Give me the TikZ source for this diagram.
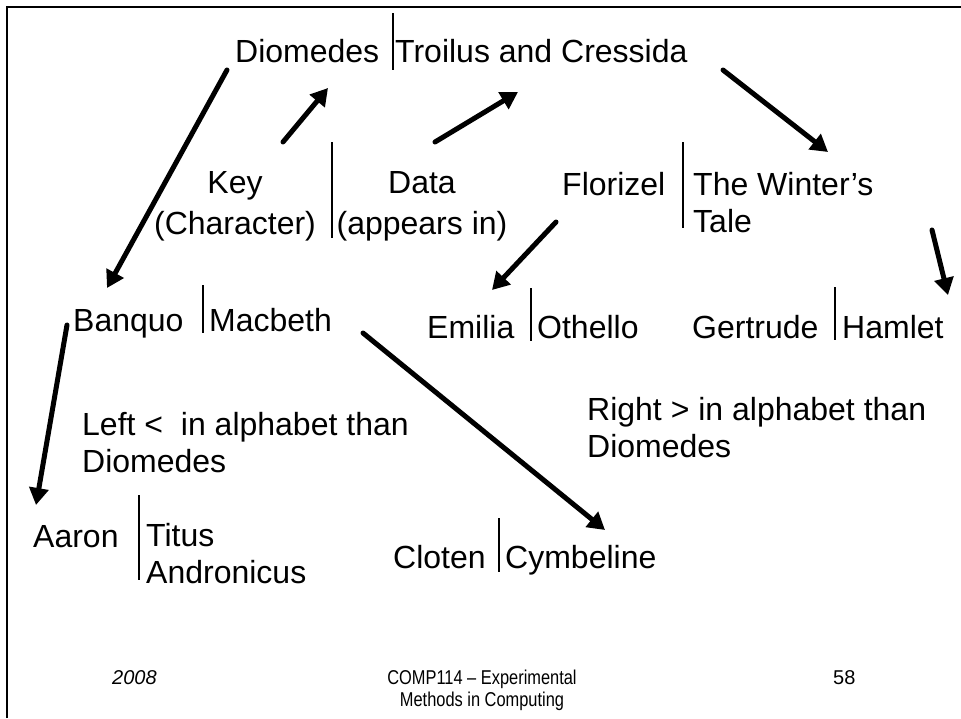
\documentclass[tikz,border=0pt]{standalone}
\usepackage{fontspec}
\setmainfont{Liberation Sans}
\usetikzlibrary{arrows.meta,positioning}

\begin{document}
\begin{tikzpicture}[
  x=1pt, y=-1pt,
  word/.style={anchor=base west, inner sep=0pt, align=left,
               font=\fontsize{32}{37}\selectfont},
  label/.style={anchor=base, inner sep=0pt, align=center,
                font=\fontsize{32}{37}\selectfont},
  foot/.style={anchor=base west, inner sep=0pt, font=\fontsize{20}{22}\selectfont},
  bar/.style={line width=1.3pt},
  arr/.style={-{Triangle[length=17pt,width=19pt]}, line width=5pt, line cap=round},
]
  \useasboundingbox (0,0) rectangle (961,718);
  \draw[line width=2pt] (7,718) -- (7,7) -- (961,7);

  % root
  \node[word] (diomedes) at (235,62) {Diomedes};
  \node[word] (troilus)  at (395,62) {Troilus and Cressida};
  \draw[bar] (393,13) -- (393,70);

  % key / data legend (base = last line)
  \node[label] (key)  at (235,234) {Key\\[4pt](Character)};
  \node[label] (data) at (422,234) {Data\\[4pt](appears in)};
  \draw[bar] (332,142) -- (332,238);

  \node[word] (florizel) at (562,195) {Florizel};
  \node[word] (winter)   at (693,232) {The Winter’s\\Tale};
  \draw[bar] (683,142) -- (683,228);

  \node[word] (banquo)  at (73,331)  {Banquo};
  \node[word] (macbeth) at (209,331) {Macbeth};
  \draw[bar] (203,285) -- (203,333);

  \node[word] (emilia)  at (427,338) {Emilia};
  \node[word] (othello) at (537,338) {Othello};
  \draw[bar] (531,288) -- (531,341);

  \node[word] (gertrude) at (692,338) {Gertrude};
  \node[word] (hamlet)   at (842,338) {Hamlet};
  \draw[bar] (835,287) -- (835,340);

  \node[word] (leftnote)  at (82,472)  {Left <\ \ in alphabet than\\Diomedes};
  \node[word] (rightnote) at (587,457) {Right > in alphabet than\\Diomedes};

  \node[word] (aaron) at (33,547)  {Aaron};
  \node[word] (titus) at (146,583) {Titus\\Andronicus};
  \draw[bar] (139,495) -- (139,580);

  \node[word] (cloten)    at (393,568) {Cloten};
  \node[word] (cymbeline) at (505,568) {Cymbeline};
  \draw[bar] (499,518) -- (499,572);

  % links
  \draw[arr] ([shift={(-8,8)}]diomedes.base west) -- ([shift={(34,-43)}]banquo.base west);
  \draw[arr] ([shift={(48,-92)}]key.base) -- ([shift={(93,26)}]diomedes.base west);
  \draw[arr] ([shift={(13,-92)}]data.base) -- ([shift={(123,30)}]troilus.base west);
  \draw[arr] ([shift={(328,8)}]troilus.base west) -- ([shift={(135,-80)}]winter.base west);
  \draw[arr] ([shift={(-6,27)}]florizel.base west) -- ([shift={(65,-48)}]emilia.base west);
  \draw[arr] ([shift={(239,-2)}]winter.base west) -- ([shift={(106,-43)}]hamlet.base west);
  \draw[arr] ([shift={(-6,-6)}]banquo.base west) -- ([shift={(3,-42)}]aaron.base west);
  \draw[arr] ([shift={(154,2)}]macbeth.base west) -- ([shift={(100,-38)}]cymbeline.base west);

  % footer
  \node[foot, font=\fontsize{20}{22}\selectfont\itshape] (year) at (112,684) {2008};
  \node[foot, anchor=base, align=center] (course) at (482,706)
    {\scalebox{0.82}[1]{COMP114 – Experimental}\\\scalebox{0.82}[1]{Methods in Computing}};
  \node[foot] (page) at (833,684) {58};
\end{tikzpicture}
\end{document}
